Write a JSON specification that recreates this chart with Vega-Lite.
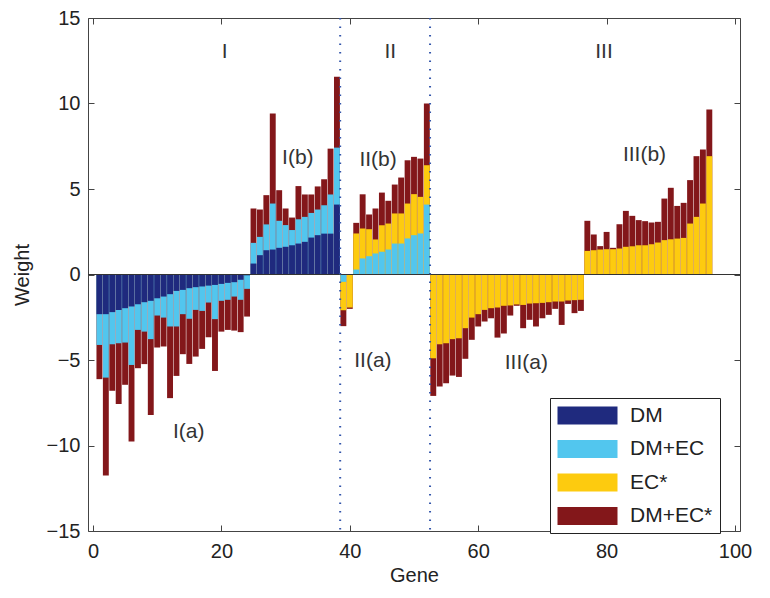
{
 "$schema": "https://vega.github.io/schema/vega-lite/v6.json",
 "width": 652, "height": 513,
 "autosize": {"type": "none"},
 "padding": {"left": 88, "top": 18, "right": 30, "bottom": 67},
 "background": "white",
 "config": {
  "view": {"stroke": "#444", "strokeWidth": 1},
  "font": "Liberation Sans",
  "axis": {"domain": false, "grid": false, "tickSize": -6, "tickColor": "#444", "tickWidth": 1,
   "labelFontSize": 20, "labelColor": "#222", "labelFont": "Liberation Sans",
   "titleFontSize": 20, "titleFontWeight": "normal", "titleColor": "#222", "titleFont": "Liberation Sans"}
 },
 "datasets": {
  "bars": [
   {"g":1,"s":"DM+EC*","v":-6.12},{"g":2,"s":"DM+EC*","v":-11.76},{"g":3,"s":"DM+EC*","v":-6.8},{"g":4,"s":"DM+EC*","v":-7.58},{"g":5,"s":"DM+EC*","v":-6.45},{"g":6,"s":"DM+EC*","v":-9.77},{"g":7,"s":"DM+EC*","v":-5.48},{"g":8,"s":"DM+EC*","v":-5.24},{"g":9,"s":"DM+EC*","v":-8.21},{"g":10,"s":"DM+EC*","v":-4.27},{"g":11,"s":"DM+EC*","v":-4.21},{"g":12,"s":"DM+EC*","v":-7.23},{"g":13,"s":"DM+EC*","v":-5.93},{"g":14,"s":"DM+EC*","v":-4.66},{"g":15,"s":"DM+EC*","v":-5.23},{"g":16,"s":"DM+EC*","v":-4.8},{"g":17,"s":"DM+EC*","v":-4.35},{"g":18,"s":"DM+EC*","v":-3.67},{"g":19,"s":"DM+EC*","v":-5.64},{"g":20,"s":"DM+EC*","v":-3.34},{"g":21,"s":"DM+EC*","v":-3.24},{"g":22,"s":"DM+EC*","v":-3.28},{"g":23,"s":"DM+EC*","v":-3.37},{"g":24,"s":"DM+EC*","v":-2.46},
   {"g":25,"s":"DM+EC*","v":3.86},{"g":26,"s":"DM+EC*","v":3.8},{"g":27,"s":"DM+EC*","v":4.64},{"g":28,"s":"DM+EC*","v":9.41},{"g":29,"s":"DM+EC*","v":4.93},{"g":30,"s":"DM+EC*","v":3.86},{"g":31,"s":"DM+EC*","v":3.33},{"g":32,"s":"DM+EC*","v":5.17},{"g":33,"s":"DM+EC*","v":4.68},{"g":34,"s":"DM+EC*","v":4.68},{"g":35,"s":"DM+EC*","v":5.15},{"g":36,"s":"DM+EC*","v":5.57},{"g":37,"s":"DM+EC*","v":7.36},{"g":38,"s":"DM+EC*","v":11.56},
   {"g":39,"s":"DM+EC*","v":-3.02},{"g":40,"s":"DM+EC*","v":-2.01},{"g":41,"s":"DM+EC*","v":3.02},{"g":42,"s":"DM+EC*","v":4.69},{"g":43,"s":"DM+EC*","v":3.51},{"g":44,"s":"DM+EC*","v":3.86},{"g":45,"s":"DM+EC*","v":4.79},{"g":46,"s":"DM+EC*","v":4.31},{"g":47,"s":"DM+EC*","v":5.26},{"g":48,"s":"DM+EC*","v":5.67},{"g":49,"s":"DM+EC*","v":6.68},{"g":50,"s":"DM+EC*","v":6.88},{"g":51,"s":"DM+EC*","v":6.78},{"g":52,"s":"DM+EC*","v":10.0},
   {"g":53,"s":"DM+EC*","v":-7.1},{"g":54,"s":"DM+EC*","v":-6.55},{"g":55,"s":"DM+EC*","v":-6.36},{"g":56,"s":"DM+EC*","v":-5.91},{"g":57,"s":"DM+EC*","v":-5.99},{"g":58,"s":"DM+EC*","v":-4.93},{"g":59,"s":"DM+EC*","v":-3.82},{"g":60,"s":"DM+EC*","v":-3.04},{"g":61,"s":"DM+EC*","v":-2.75},{"g":62,"s":"DM+EC*","v":-2.56},{"g":63,"s":"DM+EC*","v":-3.69},{"g":64,"s":"DM+EC*","v":-3.45},{"g":65,"s":"DM+EC*","v":-2.4},{"g":66,"s":"DM+EC*","v":-1.83},{"g":67,"s":"DM+EC*","v":-3.14},{"g":68,"s":"DM+EC*","v":-2.65},{"g":69,"s":"DM+EC*","v":-3.04},{"g":70,"s":"DM+EC*","v":-2.56},{"g":71,"s":"DM+EC*","v":-2.36},{"g":72,"s":"DM+EC*","v":-2.01},{"g":73,"s":"DM+EC*","v":-2.95},{"g":74,"s":"DM+EC*","v":-1.72},{"g":75,"s":"DM+EC*","v":-2.26},{"g":76,"s":"DM+EC*","v":-2.13},
   {"g":77,"s":"DM+EC*","v":3.14},{"g":78,"s":"DM+EC*","v":2.34},{"g":79,"s":"DM+EC*","v":1.66},{"g":80,"s":"DM+EC*","v":2.49},{"g":81,"s":"DM+EC*","v":1.56},{"g":82,"s":"DM+EC*","v":2.94},{"g":83,"s":"DM+EC*","v":3.72},{"g":84,"s":"DM+EC*","v":3.43},{"g":85,"s":"DM+EC*","v":3.18},{"g":86,"s":"DM+EC*","v":3.12},{"g":87,"s":"DM+EC*","v":3.04},{"g":88,"s":"DM+EC*","v":3.08},{"g":89,"s":"DM+EC*","v":4.44},{"g":90,"s":"DM+EC*","v":5.07},{"g":91,"s":"DM+EC*","v":4.01},{"g":92,"s":"DM+EC*","v":4.19},{"g":93,"s":"DM+EC*","v":5.52},{"g":94,"s":"DM+EC*","v":6.92},{"g":95,"s":"DM+EC*","v":7.31},{"g":96,"s":"DM+EC*","v":9.65},
   {"g":39,"s":"EC*","v":-2.09},{"g":40,"s":"EC*","v":-1.93},{"g":41,"s":"EC*","v":2.4},{"g":42,"s":"EC*","v":2.69},{"g":43,"s":"EC*","v":2.65},{"g":44,"s":"EC*","v":2.05},{"g":45,"s":"EC*","v":2.88},{"g":46,"s":"EC*","v":2.98},{"g":47,"s":"EC*","v":3.57},{"g":48,"s":"EC*","v":3.57},{"g":49,"s":"EC*","v":4.15},{"g":50,"s":"EC*","v":4.7},{"g":51,"s":"EC*","v":4.54},{"g":52,"s":"EC*","v":6.39},
   {"g":53,"s":"EC*","v":-4.9},{"g":54,"s":"EC*","v":-4.08},{"g":55,"s":"EC*","v":-4.02},{"g":56,"s":"EC*","v":-3.78},{"g":57,"s":"EC*","v":-3.73},{"g":58,"s":"EC*","v":-3.14},{"g":59,"s":"EC*","v":-2.52},{"g":60,"s":"EC*","v":-2.32},{"g":61,"s":"EC*","v":-2.07},{"g":62,"s":"EC*","v":-1.97},{"g":63,"s":"EC*","v":-1.93},{"g":64,"s":"EC*","v":-1.83},{"g":65,"s":"EC*","v":-1.81},{"g":66,"s":"EC*","v":-1.75},{"g":67,"s":"EC*","v":-1.78},{"g":68,"s":"EC*","v":-1.7},{"g":69,"s":"EC*","v":-1.68},{"g":70,"s":"EC*","v":-1.66},{"g":71,"s":"EC*","v":-1.62},{"g":72,"s":"EC*","v":-1.58},{"g":73,"s":"EC*","v":-1.58},{"g":74,"s":"EC*","v":-1.52},{"g":75,"s":"EC*","v":-1.5},{"g":76,"s":"EC*","v":-1.48},
   {"g":77,"s":"EC*","v":1.38},{"g":78,"s":"EC*","v":1.42},{"g":79,"s":"EC*","v":1.46},{"g":80,"s":"EC*","v":1.48},{"g":81,"s":"EC*","v":1.48},{"g":82,"s":"EC*","v":1.52},{"g":83,"s":"EC*","v":1.62},{"g":84,"s":"EC*","v":1.65},{"g":85,"s":"EC*","v":1.71},{"g":86,"s":"EC*","v":1.71},{"g":87,"s":"EC*","v":1.77},{"g":88,"s":"EC*","v":1.87},{"g":89,"s":"EC*","v":2.01},{"g":90,"s":"EC*","v":2.06},{"g":91,"s":"EC*","v":2.1},{"g":92,"s":"EC*","v":2.14},{"g":93,"s":"EC*","v":2.98},{"g":94,"s":"EC*","v":3.37},{"g":95,"s":"EC*","v":4.15},{"g":96,"s":"EC*","v":6.92},
   {"g":1,"s":"DM+EC","v":-4.12},{"g":2,"s":"DM+EC","v":-6.03},{"g":3,"s":"DM+EC","v":-4.08},{"g":4,"s":"DM+EC","v":-4.02},{"g":5,"s":"DM+EC","v":-3.98},{"g":6,"s":"DM+EC","v":-5.29},{"g":7,"s":"DM+EC","v":-3.24},{"g":8,"s":"DM+EC","v":-3.34},{"g":9,"s":"DM+EC","v":-3.78},{"g":10,"s":"DM+EC","v":-2.4},{"g":11,"s":"DM+EC","v":-2.52},{"g":12,"s":"DM+EC","v":-3.04},{"g":13,"s":"DM+EC","v":-3.04},{"g":14,"s":"DM+EC","v":-2.32},{"g":15,"s":"DM+EC","v":-2.59},{"g":16,"s":"DM+EC","v":-2.07},{"g":17,"s":"DM+EC","v":-2.13},{"g":18,"s":"DM+EC","v":-1.64},{"g":19,"s":"DM+EC","v":-2.61},{"g":20,"s":"DM+EC","v":-1.54},{"g":21,"s":"DM+EC","v":-1.48},{"g":22,"s":"DM+EC","v":-1.29},{"g":23,"s":"DM+EC","v":-1.48},{"g":24,"s":"DM+EC","v":-0.84},
   {"g":25,"s":"DM+EC","v":1.85},{"g":26,"s":"DM+EC","v":2.2},{"g":27,"s":"DM+EC","v":2.93},{"g":28,"s":"DM+EC","v":4.15},{"g":29,"s":"DM+EC","v":3.14},{"g":30,"s":"DM+EC","v":2.89},{"g":31,"s":"DM+EC","v":2.6},{"g":32,"s":"DM+EC","v":3.23},{"g":33,"s":"DM+EC","v":3.37},{"g":34,"s":"DM+EC","v":3.6},{"g":35,"s":"DM+EC","v":3.8},{"g":36,"s":"DM+EC","v":4.05},{"g":37,"s":"DM+EC","v":4.68},{"g":38,"s":"DM+EC","v":7.42},
   {"g":39,"s":"DM+EC","v":-0.43},{"g":41,"s":"DM+EC","v":0.29},{"g":42,"s":"DM+EC","v":0.94},{"g":43,"s":"DM+EC","v":1.07},{"g":44,"s":"DM+EC","v":1.23},{"g":45,"s":"DM+EC","v":1.33},{"g":46,"s":"DM+EC","v":1.46},{"g":47,"s":"DM+EC","v":1.81},{"g":48,"s":"DM+EC","v":1.81},{"g":49,"s":"DM+EC","v":2.11},{"g":50,"s":"DM+EC","v":2.3},{"g":51,"s":"DM+EC","v":2.4},{"g":52,"s":"DM+EC","v":4.09},
   {"g":1,"s":"DM","v":-2.32},{"g":2,"s":"DM","v":-2.32},{"g":3,"s":"DM","v":-2.2},{"g":4,"s":"DM","v":-2.07},{"g":5,"s":"DM","v":-1.97},{"g":6,"s":"DM","v":-1.87},{"g":7,"s":"DM","v":-1.74},{"g":8,"s":"DM","v":-1.62},{"g":9,"s":"DM","v":-1.54},{"g":10,"s":"DM","v":-1.39},{"g":11,"s":"DM","v":-1.29},{"g":12,"s":"DM","v":-1.15},{"g":13,"s":"DM","v":-0.96},{"g":14,"s":"DM","v":-0.9},{"g":15,"s":"DM","v":-0.8},{"g":16,"s":"DM","v":-0.74},{"g":17,"s":"DM","v":-0.7},{"g":18,"s":"DM","v":-0.65},{"g":19,"s":"DM","v":-0.61},{"g":20,"s":"DM","v":-0.55},{"g":21,"s":"DM","v":-0.49},{"g":22,"s":"DM","v":-0.45},{"g":23,"s":"DM","v":-0.31},{"g":24,"s":"DM","v":-0.05},
   {"g":25,"s":"DM","v":0.64},{"g":26,"s":"DM","v":1.13},{"g":27,"s":"DM","v":1.42},{"g":28,"s":"DM","v":1.46},{"g":29,"s":"DM","v":1.56},{"g":30,"s":"DM","v":1.62},{"g":31,"s":"DM","v":1.71},{"g":32,"s":"DM","v":1.81},{"g":33,"s":"DM","v":1.91},{"g":34,"s":"DM","v":2.16},{"g":35,"s":"DM","v":2.3},{"g":36,"s":"DM","v":2.39},{"g":37,"s":"DM","v":2.39},{"g":38,"s":"DM","v":4.09}
  ],
  "dividers": [{"x": 38.5}, {"x": 52.5}],
  "labels": [
   {"label":"I","x":20.5,"y":13},{"label":"II","x":46.3,"y":13},{"label":"III","x":79.6,"y":13},
   {"label":"I(a)","x":14.9,"y":-9.2},{"label":"I(b)","x":31.9,"y":6.8},{"label":"II(b)","x":44.4,"y":6.7},
   {"label":"II(a)","x":43.6,"y":-5.05},{"label":"III(a)","x":67.5,"y":-5.15},{"label":"III(b)","x":85.9,"y":7.0}
  ]
 },
 "layer": [
  {
   "data": {"name": "bars"},
   "mark": {"type": "bar", "orient": "vertical", "width": 5.9},
   "encoding": {
    "x": {"field": "g", "type": "quantitative", "scale": {"domain": [0, 100], "nice": false, "zero": false},
     "axis": {"values": [0, 20, 40, 60, 80, 100], "title": "Gene", "labelPadding": 16, "titlePadding": 4}},
    "y": {"field": "v", "type": "quantitative", "stack": null, "scale": {"domain": [-15, 15], "nice": false},
     "axis": {"values": [-15, -10, -5, 0, 5, 10, 15], "title": "Weight", "labelPadding": 14, "titlePadding": 14}},
    "color": {"field": "s", "type": "nominal",
     "scale": {"domain": ["DM", "DM+EC", "EC*", "DM+EC*"], "range": ["#1f2a7e", "#52c6ee", "#fdcb0f", "#83171a"]},
     "legend": {"orient": "none", "legendX": 462, "legendY": 380, "title": null,
      "symbolType": "M-3,-0.9H3V0.9H-3Z", "symbolSize": 400, "symbolOffset": 20, "symbolStrokeWidth": 0, "symbolOpacity": 1,
      "labelFontSize": 21, "labelColor": "#222", "labelFont": "Liberation Sans", "labelOffset": 32,
      "strokeColor": "#222", "fillColor": "white", "padding": 7, "rowPadding": 11.5}}
   }
  },
  {
   "data": {"name": "bars"},
   "mark": {"type": "rule", "color": "#333", "strokeWidth": 1},
   "encoding": {
    "y": {"datum": 0, "type": "quantitative",
     "axis": {"orient": "right", "labels": false, "title": null, "values": [-15, -10, -5, 0, 5, 10, 15]}}
   }
  },
  {
   "data": {"name": "dividers"},
   "mark": {"type": "rule", "color": "#3355aa", "strokeWidth": 2, "strokeDash": [1.5, 7]},
   "encoding": {
    "x": {"field": "x", "type": "quantitative",
     "axis": {"orient": "top", "labels": false, "title": null, "values": [0, 20, 40, 60, 80, 100]}}
   }
  },
  {
   "data": {"name": "labels"},
   "mark": {"type": "text", "fontSize": 21, "color": "#333", "font": "Liberation Sans"},
   "encoding": {
    "x": {"field": "x", "type": "quantitative", "axis": null},
    "y": {"field": "y", "type": "quantitative", "axis": null},
    "text": {"field": "label"}
   }
  }
 ],
 "resolve": {"axis": {"x": "independent", "y": "independent"}}
}
